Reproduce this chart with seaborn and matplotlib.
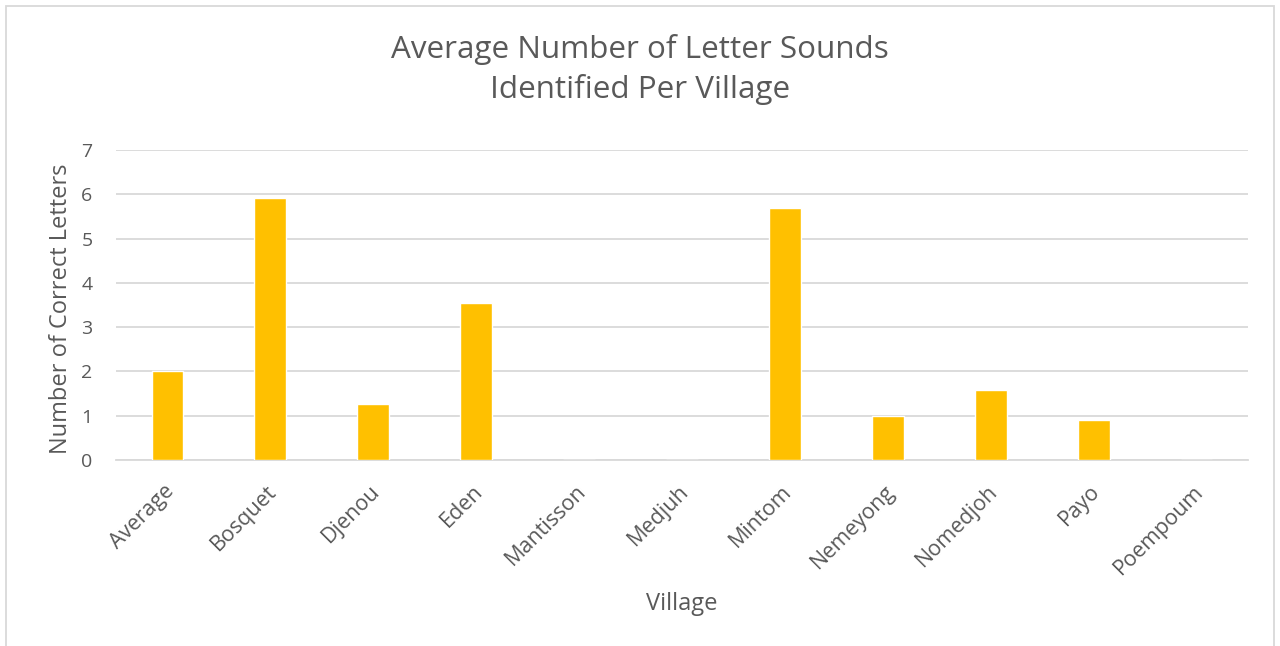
import pandas as pd
import matplotlib.pyplot as plt
import matplotlib.transforms as mtransforms
import seaborn as sns
from matplotlib.patches import Rectangle

villages = ['Average', 'Bosquet', 'Djenou', 'Eden', 'Mantisson', 'Medjuh',
            'Mintom', 'Nemeyong', 'Nomedjoh', 'Payo', 'Poempoum']
correct_letters = [2.0, 5.91, 1.27, 3.54, 0.0, 0.0, 5.70, 1.0, 1.59, 0.90, 0.0]

sns.set_style('white')
plt.rcParams['font.family'] = ['Open Sans', 'DejaVu Sans']
text_color = '#595959'
grid_color = '#D9D9D9'

df = pd.DataFrame({'Village': villages, 'Number of Correct Letters': correct_letters})

fig = plt.figure(figsize=(12.8, 6.46), dpi=100)
ax = fig.add_axes([116 / 1280, 1 - 460 / 646, 1132 / 1280, 310 / 646])

sns.barplot(x='Village', y='Number of Correct Letters', data=df, color='#FFC000',
            saturation=1, width=0.31, ax=ax, zorder=3)

ax.set_ylim(0, 7)
ax.set_xlim(-0.5, len(villages) - 0.5)
ax.set_yticks(range(0, 8))
ax.yaxis.grid(True, color=grid_color, linewidth=1.3, zorder=0)
ax.set_axisbelow(True)
for side in ['top', 'right', 'left']:
    ax.spines[side].set_visible(False)
ax.spines['bottom'].set_color(grid_color)
ax.spines['bottom'].set_linewidth(1.3)

# category separator ticks like excel
ax.set_xticks([i - 0.5 for i in range(len(villages) + 1)], minor=True)
ax.tick_params(axis='x', which='minor', length=7, color=grid_color, width=1.3)
ax.tick_params(axis='x', which='major', length=0, pad=15)
ax.tick_params(axis='y', length=0, pad=17, labelsize=14, labelcolor=text_color)
ax.set_xticks(range(len(villages)))
ax.set_xticklabels(villages, rotation=45, ha='right', rotation_mode='anchor',
                   fontsize=15.5, color=text_color)
shift = mtransforms.ScaledTranslation(-4 / 100, 0, fig.dpi_scale_trans)
for lbl in ax.get_xticklabels():
    lbl.set_transform(lbl.get_transform() + shift)

ax.set_xlabel('Village', fontsize=17, color=text_color)
ax.xaxis.set_label_coords(0.5, -0.425)
ax.set_ylabel('Number of Correct Letters', fontsize=17, color=text_color)
ax.yaxis.set_label_coords(-0.038, 0.487)
fig.text(0.5, 1 - 69.5 / 646, 'Average Number of Letter Sounds\nIdentified Per Village',
         ha='center', va='center', fontsize=22.6, color=text_color, linespacing=1.41)

# outer chart border
fig.patches.append(Rectangle((6 / 1280, -0.1), 1268 / 1280, 1.1 - 6 / 646,
                             transform=fig.transFigure, fill=False,
                             edgecolor=grid_color, linewidth=1.3))

plt.savefig('out.png', dpi=100)
